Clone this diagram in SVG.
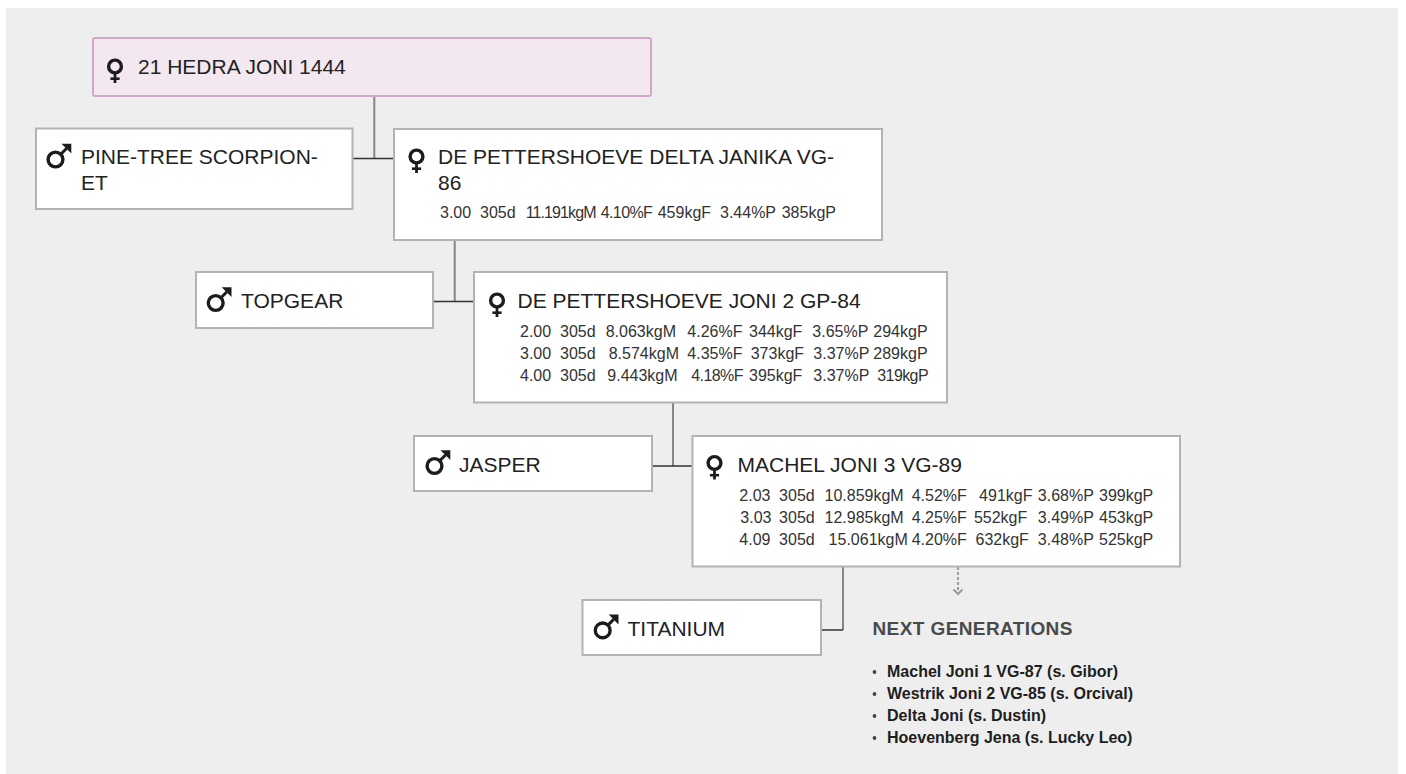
<svg xmlns="http://www.w3.org/2000/svg" width="1406" height="774" viewBox="0 0 1406 774">
<style>
.bg{fill:#eeeeee}
.box{fill:#ffffff;stroke:#b3b3b3;stroke-width:2}
.root{fill:#f3e7f0;stroke:#d2a6ca;stroke-width:2}
text{font-family:"Liberation Sans",Arial,sans-serif}
.t{font-size:21px;fill:#222222}
.d{font-size:16px;fill:#333333}
.v{stroke:#858585;stroke-width:2;fill:none}
.h{stroke:#333333;stroke-width:1.5;fill:none}
.ng{font-size:19px;font-weight:bold;fill:#4a4a4a;letter-spacing:0.4px}
.li{font-size:16px;font-weight:bold;fill:#1e1e1e}
.ic{stroke:#1c1c1c;fill:none}
.n1{letter-spacing:-0.9px}
.n2{letter-spacing:-0.6px}
.bu{fill:#444444}
</style>
<defs>
<g id="fem">
<circle r="6.4" class="ic" stroke-width="3.4"/>
<path d="M0 7.5V16.5" class="ic" stroke-width="2.8"/>
<path d="M-4.6 12.2H4.6" class="ic" stroke-width="2.6"/>
</g>
<g id="male">
<circle r="7.4" class="ic" stroke-width="3.4"/>
<path d="M4.5 -4.5L11 -11" class="ic" stroke-width="3"/>
<polygon points="6,-15.8 15.8,-15.8 15.8,-6" fill="#1c1c1c"/>
</g>
</defs>
<rect class="bg" x="6" y="8" width="1392" height="766"/>

<g id="connectors">
<path class="v" d="M374.3 96V158.5"/>
<path class="h" d="M352.7 158.5H394"/>
<path class="v" d="M454.7 240V301.5"/>
<path class="h" d="M433 301.5H473.7"/>
<path class="v" d="M673 402.7V466"/>
<path class="h" d="M652 466H692.7"/>
<path class="v" d="M843 566.5V630"/>
<path class="h" d="M821 630H843"/>
<path d="M958 567V591" stroke="#9a9a9a" stroke-width="2" stroke-dasharray="3 2" fill="none"/>
<path d="M953.5 589.5L958 594L962.5 589.5" stroke="#9a9a9a" stroke-width="2" fill="none"/>
</g>

<g id="root-node">
<rect class="root" x="93" y="38" width="558" height="58" rx="2"/>
<use href="#fem" x="115" y="66.5"/>
<text class="t" x="138" y="73.5">21 HEDRA JONI 1444</text>
</g>

<g id="pine-tree">
<rect class="box" x="36" y="128.5" width="316.5" height="80.5"/>
<use href="#male" x="55.5" y="159.5"/>
<text class="t" x="81" y="163.5">PINE-TREE SCORPION-</text>
<text class="t" x="81" y="189.5">ET</text>
</g>

<g id="delta-janika">
<rect class="box" x="394" y="129" width="488" height="111"/>
<use href="#fem" x="416.5" y="156.5"/>
<text class="t" x="438" y="163.5">DE PETTERSHOEVE DELTA JANIKA VG-</text>
<text class="t" x="438" y="189.5">86</text>
<text class="d" y="217.5"><tspan x="440">3.00</tspan> <tspan x="480">305d</tspan> <tspan x="525.7" class="n1">11.191kgM</tspan> <tspan x="600.7" class="n2">4.10%F</tspan> <tspan x="657.7">459kgF</tspan> <tspan x="720">3.44%P</tspan> <tspan x="781.7">385kgP</tspan></text>
</g>

<g id="topgear">
<rect class="box" x="196" y="272" width="237" height="56"/>
<use href="#male" x="215.7" y="303"/>
<text class="t" x="241" y="307.5">TOPGEAR</text>
</g>

<g id="joni-2">
<rect class="box" x="474" y="272" width="473" height="130.5"/>
<use href="#fem" x="497" y="300.5"/>
<text class="t" x="517.5" y="307.5">DE PETTERSHOEVE JONI 2 GP-84</text>
<text class="d" y="336.5"><tspan x="520">2.00</tspan> <tspan x="560">305d</tspan> <tspan x="605.7">8.063kgM</tspan> <tspan x="687.3">4.26%F</tspan> <tspan x="749">344kgF</tspan> <tspan x="812.3">3.65%P</tspan> <tspan x="873.3">294kgP</tspan></text>
<text class="d" y="358.5"><tspan x="520">3.00</tspan> <tspan x="560">305d</tspan> <tspan x="608.7">8.574kgM</tspan> <tspan x="687.3">4.35%F</tspan> <tspan x="750.7">373kgF</tspan> <tspan x="813.3">3.37%P</tspan> <tspan x="873.3">289kgP</tspan></text>
<text class="d" y="381"><tspan x="520">4.00</tspan> <tspan x="560">305d</tspan> <tspan x="607.3">9.443kgM</tspan> <tspan x="691.3" class="n2">4.18%F</tspan> <tspan x="749">395kgF</tspan> <tspan x="813.3">3.37%P</tspan> <tspan x="877.3" class="n2">319kgP</tspan></text>
</g>

<g id="jasper">
<rect class="box" x="414" y="436" width="238" height="55"/>
<use href="#male" x="434.5" y="466"/>
<text class="t" x="459" y="471.5">JASPER</text>
</g>

<g id="machel-joni-3">
<rect class="box" x="692.5" y="436" width="487.5" height="130.5"/>
<use href="#fem" x="714.5" y="463"/>
<text class="t" x="737.5" y="471.5">MACHEL JONI 3 VG-89</text>
<text class="d" y="500.5"><tspan x="739.3">2.03</tspan> <tspan x="779.1">305d</tspan> <tspan x="824.5">10.859kgM</tspan> <tspan x="911.7">4.52%F</tspan> <tspan x="979.1">491kgF</tspan> <tspan x="1037.8">3.68%P</tspan> <tspan x="1099">399kgP</tspan></text>
<text class="d" y="522.5"><tspan x="740.3">3.03</tspan> <tspan x="779.1">305d</tspan> <tspan x="824.5">12.985kgM</tspan> <tspan x="911.7">4.25%F</tspan> <tspan x="973.9">552kgF</tspan> <tspan x="1037.8">3.49%P</tspan> <tspan x="1099">453kgP</tspan></text>
<text class="d" y="544.5"><tspan x="739.3">4.09</tspan> <tspan x="779.1">305d</tspan> <tspan x="828.6">15.061kgM</tspan> <tspan x="911.7">4.20%F</tspan> <tspan x="975.5">632kgF</tspan> <tspan x="1037.8">3.48%P</tspan> <tspan x="1099">525kgP</tspan></text>
</g>

<g id="titanium">
<rect class="box" x="582.5" y="600" width="238.5" height="55"/>
<use href="#male" x="602.7" y="630.4"/>
<text class="t" x="627.5" y="636">TITANIUM</text>
</g>

<g id="next-generations">
<text class="ng" x="872.5" y="635">NEXT GENERATIONS</text>
<circle class="bu" cx="874.5" cy="672" r="1.9"/>
<circle class="bu" cx="874.5" cy="694" r="1.9"/>
<circle class="bu" cx="874.5" cy="716" r="1.9"/>
<circle class="bu" cx="874.5" cy="738" r="1.9"/>
<text class="li" x="887" y="677">Machel Joni 1 VG-87 (s. Gibor)</text>
<text class="li" x="887" y="699">Westrik Joni 2 VG-85 (s. Orcival)</text>
<text class="li" x="887" y="721">Delta Joni (s. Dustin)</text>
<text class="li" x="887" y="743">Hoevenberg Jena (s. Lucky Leo)</text>
</g>
</svg>
